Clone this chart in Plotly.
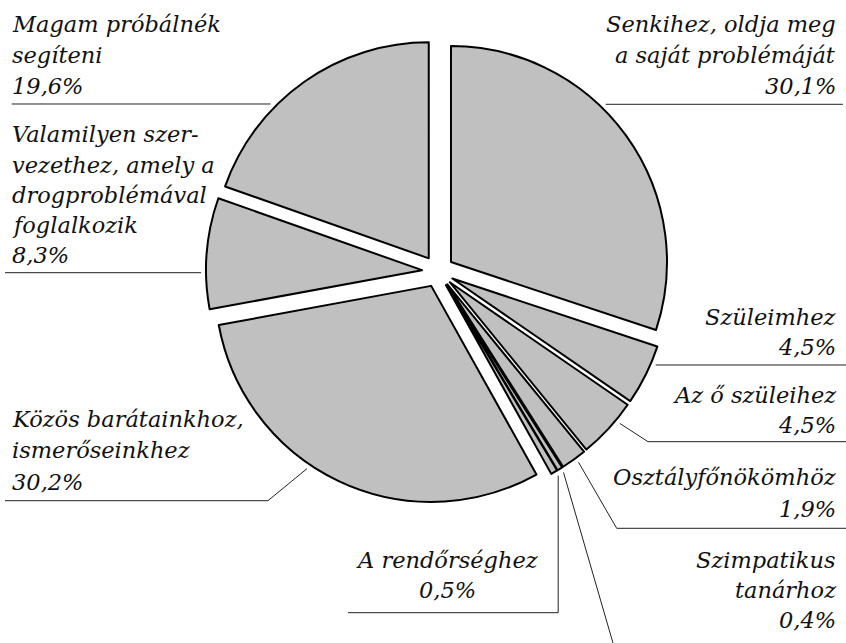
import math
import plotly.graph_objects as go

# ---- data -------------------------------------------------------------
labels = [
    "Senkihez, oldja meg a saját problémáját",
    "Szüleimhez",
    "Az ő szüleihez",
    "Osztályfőnökömhöz",
    "Szimpatikus tanárhoz",
    "A rendőrséghez",
    "Közös barátainkhoz, ismerőseinkhez",
    "Valamilyen szervezethez, amely a drogproblémával foglalkozik",
    "Magam próbálnék segíteni",
]
shares = [30.1, 4.5, 4.5, 1.9, 0.4, 0.5, 30.2, 8.3, 19.6]

# wrapped label text (one list of lines per slice)
label_lines = [
    ["Senkihez, oldja meg", "a saját problémáját"],
    ["Szüleimhez"],
    ["Az ő szüleihez"],
    ["Osztályfőnökömhöz"],
    ["Szimpatikus", "tanárhoz"],
    ["A rendőrséghez"],
    ["Közös barátainkhoz,", "ismerőseinkhez"],
    ["Valamilyen szer-", "vezethez, amely a", "drogproblémával", "foglalkozik"],
    ["Magam próbálnék", "segíteni"],
]

# ---- layout constants (pixels) -----------------------------------------
W, H = 846, 643
CX, CY = 438.0, 271.4      # pie centre
R = 216.0                  # pie radius
PULL_PX = 16.0             # explosion distance of every slice
PULL = PULL_PX / R
FS = 22.5                  # label font size
GAP = 5.0                  # distance between slice rim and leader start

half = R * (1 + PULL)
dom_x = [(CX - half) / W, (CX + half) / W]
dom_y = [1 - (CY + half) / H, 1 - (CY - half) / H]

# label placement: anchor, x, baselines of each text line, underline y,
# outer end of underline, leader kind / parameters
label_layout = [
    dict(anchor="right", x=838, base=[31.7, 63.0, 93.5], uy=104.3, ux=843, kind="h", side=1),
    dict(anchor="right", x=838, base=[325.0, 355.0], uy=365.0, ux=846, kind="h", side=1),
    dict(anchor="right", x=838, base=[403.0, 433.0], uy=441.7, ux=846, kind="d", att=129.7, elbow=(648, 441.7)),
    dict(anchor="right", x=838, base=[485.0, 516.7], uy=528.3, ux=846, kind="d", att=143.6, elbow=(616.7, 528.3)),
    dict(anchor="right", x=838, base=[568.0, 598.3, 628.3], uy=652.0, ux=846, kind="d", att=148.0, elbow=None),
    dict(anchor="center", x=447, base=[568.0, 598.0], uy=612.7, ux=348, kind="v", att=149.5),
    dict(anchor="left", x=10, base=[426.7, 458.3, 490.0], uy=500.7, ux=5, kind="d", att=214.2, elbow=(268, 500.7)),
    dict(anchor="left", x=10, base=[141.7, 172.5, 203.0, 233.3, 262.5], uy=272.7, ux=5, kind="h", side=-1),
    dict(anchor="left", x=10, base=[31.7, 62.7, 93.8], uy=104.0, ux=11.7, kind="h", side=-1),
]

# ---- slice geometry (derived from the data) ------------------------------
total = sum(shares)
mids = []
acc = 0.0
for v in shares:
    mids.append((acc + v / 2) / total * 360)
    acc += v


def apex(i):
    a = math.radians(mids[i])
    return CX + PULL_PX * math.sin(a), CY - PULL_PX * math.cos(a)


def rim_point(i, deg, extra=GAP):
    ax, ay = apex(i)
    a = math.radians(deg)
    return ax + (R + extra) * math.sin(a), ay - (R + extra) * math.cos(a)


def px(x, y):
    return x / W, 1 - y / H


def path_from(points):
    d = ""
    for k, (x, y) in enumerate(points):
        fx, fy = px(x, y)
        d += ("M" if k == 0 else " L") + f" {fx:.5f},{fy:.5f}"
    return d


fig = go.Figure()
fig.add_trace(go.Pie(
    values=shares,
    labels=labels,
    sort=False,
    direction="clockwise",
    rotation=0,
    pull=[PULL] * len(shares),
    marker=dict(colors=["#c0c0c0"] * len(shares), line=dict(color="black", width=2)),
    textinfo="none",
    hoverinfo="label+percent",
    domain=dict(x=dom_x, y=dom_y),
    showlegend=False,
))

shapes = []
annotations = []
font = dict(family="DejaVu Serif", size=FS, color="#111111", style="italic")

for i, spec in enumerate(label_layout):
    pct = f"{shares[i]:.1f}%".replace(".", ",")
    lines = label_lines[i] + [pct]
    for text, b in zip(lines, spec["base"]):
        fx, fy = px(spec["x"], b - 0.35 * FS)
        annotations.append(dict(
            x=fx, y=fy, xref="paper", yref="paper",
            xanchor=spec["anchor"], yanchor="middle",
            text=text, showarrow=False, font=font,
        ))

    uy = spec["uy"]
    if spec["kind"] == "h":
        ax, ay = apex(i)
        rr = R + GAP
        c = (ay - uy) / rr
        x_in = ax + spec["side"] * rr * math.sqrt(max(0.0, 1 - c * c))
        pts = [(x_in, uy), (spec["ux"], uy)]
    elif spec["kind"] == "v":
        sx, sy = rim_point(i, spec["att"])
        pts = [(sx, sy), (sx, uy), (spec["ux"], uy)]
    else:
        sx, sy = rim_point(i, spec["att"])
        if spec["elbow"] is None:
            ex, ey = sx + (uy - sy) * 0.29, uy
        else:
            ex, ey = spec["elbow"]
        pts = [(sx, sy), (ex, ey), (spec["ux"], uy)]
    shapes.append(dict(
        type="path", xref="paper", yref="paper",
        path=path_from(pts),
        line=dict(color="#222222", width=1),
    ))

fig.update_layout(
    width=W, height=H,
    margin=dict(l=0, r=0, t=0, b=0),
    paper_bgcolor="white",
    plot_bgcolor="white",
    shapes=shapes,
    annotations=annotations,
    showlegend=False,
)

fig.write_html("out.html")
